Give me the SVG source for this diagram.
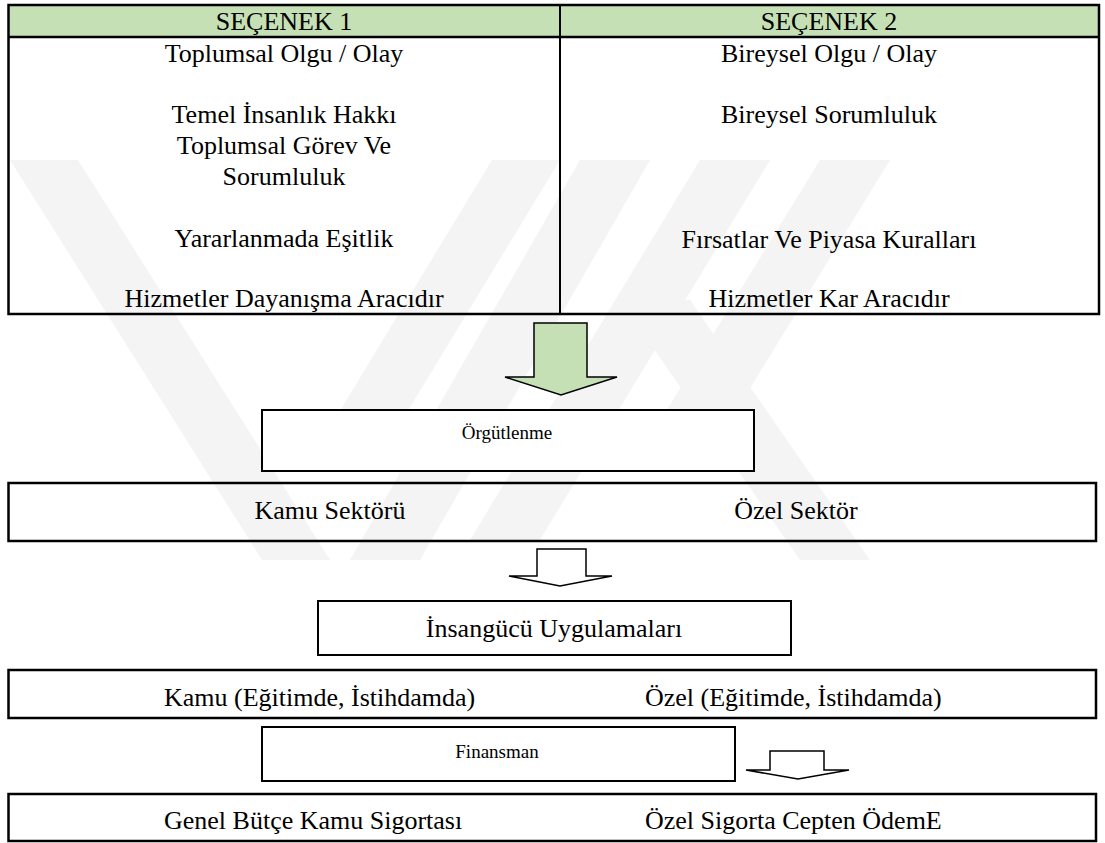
<svg xmlns="http://www.w3.org/2000/svg" width="1105" height="843" viewBox="0 0 1105 843">
  <style>
    .t { font-family: "Liberation Serif", "Times New Roman", serif; font-size: 26px; fill: #000; }
    .c { text-anchor: middle; }
    .s { font-size: 19px; }
    .box { fill: #fff; stroke: #000; stroke-width: 2; }
    .bigbox { fill: none; stroke: #000; stroke-width: 2.5; }
    .hdr { fill: #c5e0b4; }
    .wm { fill: #f4f4f4; }
    .garrow { fill: #c5e0b4; stroke: #000; stroke-width: 1.5; }
    .warrow { fill: #fff; stroke: #000; stroke-width: 1.5; }
  </style>
  <rect width="1105" height="843" fill="#fff"/>
  <g id="watermark">
    <polygon class="wm" points="10,160 78,160 330,560 262,560"/>
    <polygon class="wm" points="492,160 560,160 372,470 304,470"/>
    <polygon class="wm" points="580,160 650,160 420,560 350,560"/>
    <polygon class="wm" points="700,160 770,160 540,540 470,540"/>
    <polygon class="wm" points="820,160 890,160 700,470 630,470"/>
    <polygon class="wm" points="620,300 690,300 870,560 800,560"/>
  </g>
  <g id="table">
    <rect class="hdr" x="8.5" y="5" width="1090.5" height="32"/>
    <rect class="bigbox" x="8.5" y="5" width="1090.5" height="309"/>
    <line x1="8.5" y1="37" x2="1099" y2="37" stroke="#000" stroke-width="2.5"/>
    <line x1="560" y1="5" x2="560" y2="314" stroke="#000" stroke-width="2"/>
  </g>
  <g id="col1">
    <text class="t c" x="284" y="30">SEÇENEK 1</text>
    <text class="t c" x="284" y="62">Toplumsal Olgu / Olay</text>
    <text class="t c" x="284" y="123">Temel İnsanlık Hakkı</text>
    <text class="t c" x="284" y="154">Toplumsal Görev Ve</text>
    <text class="t c" x="284" y="185">Sorumluluk</text>
    <text class="t c" x="284" y="247">Yararlanmada Eşitlik</text>
    <text class="t c" x="284" y="307">Hizmetler Dayanışma Aracıdır</text>
  </g>
  <g id="col2">
    <text class="t c" x="829" y="30">SEÇENEK 2</text>
    <text class="t c" x="829" y="62">Bireysel Olgu / Olay</text>
    <text class="t c" x="829" y="123">Bireysel Sorumluluk</text>
    <text class="t c" x="829" y="248">Fırsatlar Ve Piyasa Kuralları</text>
    <text class="t c" x="829" y="307">Hizmetler Kar Aracıdır</text>
  </g>
  <g id="connectors">
    <polygon class="garrow" points="534,323 587,323 587,377 617,377 561,395 505,377 534,377"/>
    <polygon class="warrow" points="537,549 586,549 586,576 612,576 560,586 509,576 537,576"/>
    <polygon class="warrow" points="770,751 824,751 824,770 849,770 798,779 746,770 770,770"/>
  </g>
  <g id="orgutlenme">
    <rect class="box" x="262" y="410" width="492" height="61"/>
    <text class="t c s" x="507" y="439">Örgütlenme</text>
  </g>
  <g id="sektor">
    <rect class="bigbox" x="8.5" y="483" width="1087.5" height="58"/>
    <text class="t c" x="330" y="519">Kamu Sektörü</text>
    <text class="t c" x="796" y="519">Özel Sektör</text>
  </g>
  <g id="insangucu">
    <rect class="box" x="318" y="601" width="473" height="54"/>
    <text class="t c" x="554" y="637">İnsangücü Uygulamaları</text>
  </g>
  <g id="egitim">
    <rect class="bigbox" x="8.5" y="670" width="1087.5" height="48"/>
    <text class="t" x="164" y="706">Kamu (Eğitimde, İstihdamda)</text>
    <text class="t" x="645" y="706">Özel (Eğitimde, İstihdamda)</text>
  </g>
  <g id="finansman">
    <rect class="box" x="262" y="727" width="473" height="54"/>
    <text class="t c s" x="497" y="758">Finansman</text>
  </g>
  <g id="finans-tur">
    <rect class="bigbox" x="8.5" y="794" width="1087.5" height="47"/>
    <text class="t" x="164" y="829">Genel Bütçe Kamu Sigortası</text>
    <text class="t" x="645" y="829">Özel Sigorta Cepten ÖdemE</text>
  </g>
</svg>
